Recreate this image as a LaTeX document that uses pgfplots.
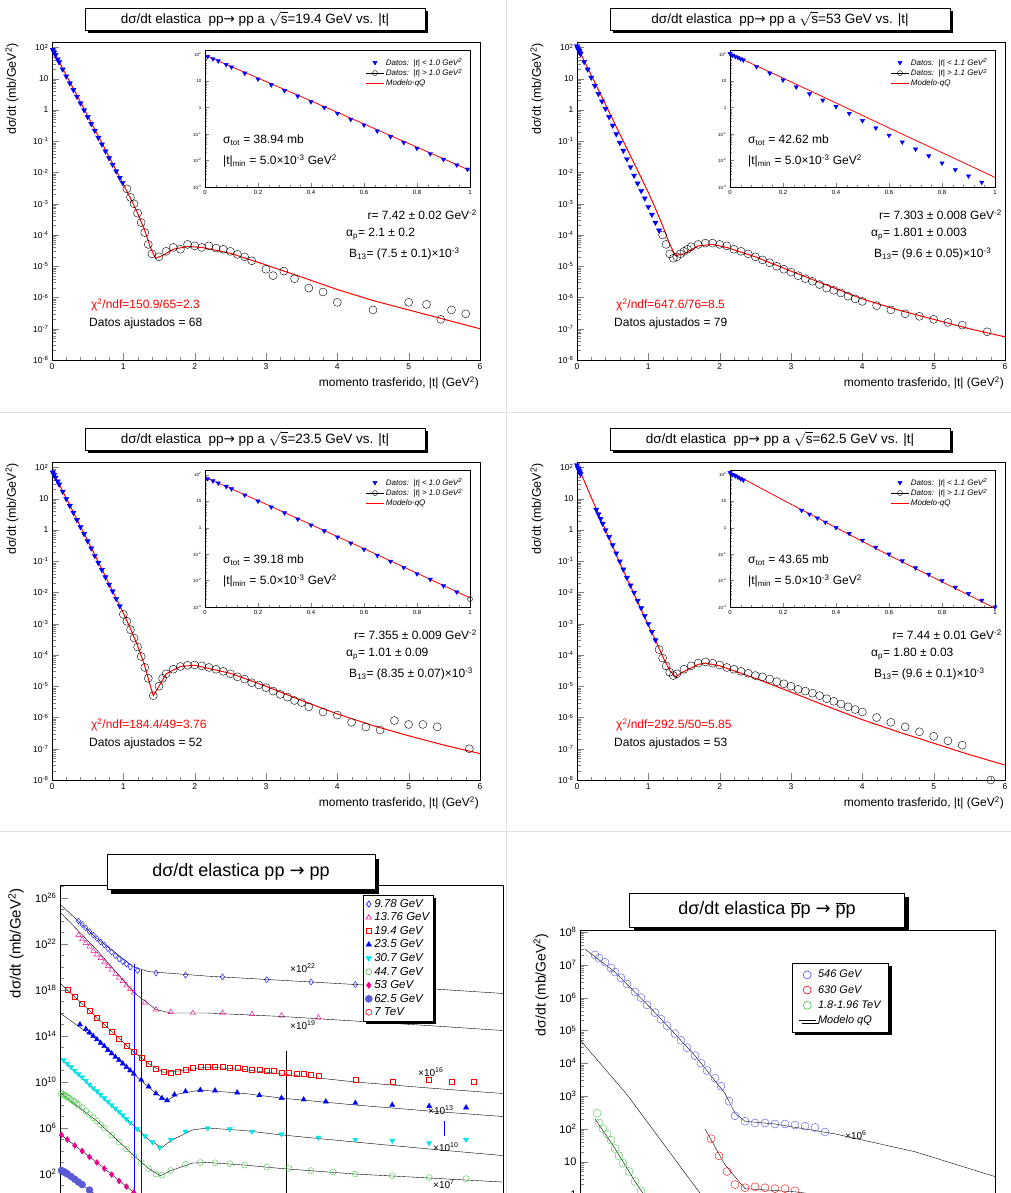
\documentclass[border=0pt]{standalone}
\usepackage{pgfplots}\pgfplotsset{compat=1.18}
\usepackage{pgfplotstable}
\usepackage{fontspec}\setmainfont{Liberation Sans}
\newfontfamily\dejavu{DejaVu Sans}
\usetikzlibrary{shadows}
\newcommand\E[1]{10\textsuperscript{#1}}
\newcommand\ar{{\dejavu →}}
\definecolor{rcyan}{RGB}{0,230,230}
\definecolor{rgreen}{RGB}{70,200,70}
\definecolor{rpurp}{RGB}{90,90,210}
\definecolor{rblue}{RGB}{80,80,230}

% ---------- panel A 19.4 GeV
\pgfplotstableread{
t y
0.01 85
0.03 70
0.05 58
0.08 42
0.1 34
0.15 20
0.2 12
0.25 7.2
0.3 4.4
0.35 2.7
0.4 1.65
0.45 1.0
0.5 0.6
0.55 0.36
0.6 0.22
0.65 0.13
0.7 0.08
0.75 0.048
0.8 0.029
0.85 0.018
0.9 0.011
0.95 0.0068
0.99 0.0047
}\triA
\pgfplotstableread{
t y
1.05 3e-3
1.1 1.6e-3
1.15 1e-3
1.2 5e-4
1.25 2.5e-4
1.3 1.2e-4
1.35 5e-5
1.4 2.5e-5
1.5 2e-5
1.6 3e-5
1.7 4e-5
1.8 3.5e-5
1.9 5e-5
2.0 4.5e-5
2.1 4e-5
2.2 4.5e-5
2.3 3.8e-5
2.4 3.5e-5
2.5 3e-5
2.6 2.4e-5
2.7 2e-5
2.8 1.5e-5
3.0 8e-6
3.1 5e-6
3.25 7e-6
3.4 4e-6
3.6 2e-6
3.8 1.5e-6
4.0 7e-7
4.5 4e-7
5.0 7e-7
5.25 6e-7
5.45 2e-7
5.6 4e-7
5.8 3e-7
}\circA
\pgfplotstableread{
t y
0 95
0.2 13
0.4 1.8
0.6 0.24
0.8 0.032
1.0 0.0042
1.1 1.5e-3
1.2 5e-4
1.3 1.4e-4
1.38 4e-5
1.45 1.8e-5
1.55 2.2e-5
1.7 3.5e-5
1.9 4.3e-5
2.1 4e-5
2.5 2.6e-5
3 1.1e-5
3.5 4.5e-6
4 1.8e-6
4.5 8e-7
5 4e-7
5.5 2e-7
6 1e-7
}\modA
% ---------- panel B 53 GeV
\pgfplotstableread{
t y
0.0 110
0.01 95
0.02 85
0.03 78
0.04 70
0.05 63
0.1 35
0.15 20
0.2 11
0.25 6
0.3 3.3
0.35 1.9
0.4 1.1
0.45 0.6
0.5 0.32
0.55 0.17
0.6 0.09
0.65 0.05
0.7 0.027
0.75 0.015
0.8 0.008
0.85 0.0045
0.9 0.0026
0.95 0.0015
1.0 8e-4
1.05 4.5e-4
1.1 2.5e-4
1.15 1.4e-4
}\triB
\pgfplotstableread{
t y
1.2 1e-4
1.25 5e-5
1.3 2.5e-5
1.35 1.8e-5
1.4 2e-5
1.45 2.5e-5
1.5 3e-5
1.55 3.5e-5
1.6 4.2e-5
1.7 5e-5
1.8 5.5e-5
1.9 5.5e-5
2.0 5e-5
2.1 4.5e-5
2.2 3.5e-5
2.3 3e-5
2.4 2.5e-5
2.5 2e-5
2.6 1.6e-5
2.7 1.3e-5
2.8 1e-5
2.9 8e-6
3.0 6.5e-6
3.1 5e-6
3.2 4e-6
3.3 3.3e-6
3.4 2.6e-6
3.5 2e-6
3.6 1.7e-6
3.7 1.4e-6
3.8 1.1e-6
3.9 9e-7
4.0 7.5e-7
4.2 5.5e-7
4.4 4e-7
4.6 3e-7
4.8 2.5e-7
5.0 2e-7
5.2 1.6e-7
5.4 1.3e-7
5.75 8e-8
}\circB
\pgfplotstableread{
t y
0 110
0.2 13
0.4 1.5
0.6 0.17
0.8 0.02
1.0 2.3e-3
1.1 7e-4
1.2 2e-4
1.3 5e-5
1.38 2.2e-5
1.5 2.5e-5
1.7 4.5e-5
1.9 5e-5
2.1 4e-5
2.5 2e-5
3 7e-6
3.5 2.5e-6
4 9e-7
4.5 4e-7
5 2e-7
5.5 1e-7
6 5.5e-8
}\modB
% ---------- panel C 23.5 GeV
\pgfplotstableread{
t y
0.01 70
0.03 58
0.05 48
0.08 36
0.1 29
0.15 17
0.2 10
0.25 6
0.3 3.6
0.35 2.1
0.4 1.25
0.45 0.75
0.5 0.44
0.55 0.26
0.6 0.15
0.65 0.09
0.7 0.053
0.75 0.031
0.8 0.018
0.85 0.011
0.9 0.0063
0.95 0.0037
}\triC
\pgfplotstableread{
t y
1.0 2e-3
1.05 1.2e-3
1.1 6.5e-4
1.15 3.5e-4
1.2 1.8e-4
1.25 9e-5
1.3 4e-5
1.35 1.8e-5
1.42 5e-6
1.5 1e-5
1.55 1.8e-5
1.6 2.5e-5
1.7 3.5e-5
1.8 4.3e-5
1.9 4.7e-5
2.0 4.8e-5
2.1 4.5e-5
2.2 4e-5
2.3 3.5e-5
2.4 3e-5
2.5 2.5e-5
2.6 2e-5
2.7 1.7e-5
2.8 1.3e-5
2.9 1.1e-5
3.0 9e-6
3.1 7e-6
3.2 5.5e-6
3.3 4.5e-6
3.4 3.5e-6
3.5 3e-6
3.6 2.2e-6
3.8 1.5e-6
4.0 1.2e-6
4.2 7e-7
4.4 5e-7
4.6 4e-7
4.8 8e-7
5.0 6e-7
5.2 6e-7
5.4 5e-7
5.85 1e-7
}\circC
\pgfplotstableread{
t y
0 80
0.2 10.5
0.4 1.3
0.6 0.16
0.8 0.019
1.0 2.2e-3
1.1 7e-4
1.2 2e-4
1.3 4.5e-5
1.38 1e-5
1.42 5e-6
1.5 1e-5
1.6 2.5e-5
1.8 4.3e-5
2.0 4.7e-5
2.5 2.6e-5
3 1e-5
3.5 3.5e-6
4 1.3e-6
4.5 5.5e-7
5 2.6e-7
5.5 1.3e-7
6 7e-8
}\modC
% ---------- panel D 62.5 GeV
\pgfplotstableread{
t y
0.0 120
0.01 100
0.02 90
0.03 80
0.04 70
0.05 62
0.27 4.5
0.3 3.2
0.33 2.3
0.36 1.6
0.4 1.0
0.45 0.6
0.5 0.33
0.55 0.18
0.6 0.1
0.65 0.055
0.7 0.03
0.75 0.017
0.8 0.01
0.85 0.0055
0.9 0.0032
0.95 0.0018
1.0 1e-3
1.05 5.5e-4
1.1 3e-4
}\triD
\pgfplotstableread{
t y
1.15 1.5e-4
1.2 8e-5
1.25 4.5e-5
1.3 2.8e-5
1.35 2.2e-5
1.4 2.5e-5
1.5 3.5e-5
1.6 4.5e-5
1.7 5.5e-5
1.8 6e-5
1.9 5.5e-5
2.0 4.8e-5
2.1 4e-5
2.2 3.5e-5
2.3 3e-5
2.4 2.6e-5
2.5 2.2e-5
2.6 2e-5
2.7 1.7e-5
2.8 1.4e-5
2.9 1.2e-5
3.0 1e-5
3.1 8e-6
3.2 7e-6
3.3 6e-6
3.4 5e-6
3.5 4e-6
3.6 3.3e-6
3.7 2.7e-6
3.8 2.2e-6
3.9 1.8e-6
4.0 1.5e-6
4.2 1e-6
4.4 7e-7
4.6 5e-7
4.8 3.5e-7
5.0 2.5e-7
5.2 1.8e-7
5.4 1.3e-7
5.8 1e-8
}\circD
\pgfplotstableread{
t y
0 130
0.2 11
0.4 1.0
0.6 0.09
0.8 0.009
1.0 9e-4
1.1 3e-4
1.2 9e-5
1.3 3.2e-5
1.38 2e-5
1.5 3e-5
1.7 5e-5
1.8 5.5e-5
2.0 4.5e-5
2.5 1.8e-5
3 6.5e-6
3.5 2.3e-6
4 8.5e-7
4.5 3.5e-7
5 1.5e-7
5.5 6.5e-8
6 3e-8
}\modD

\newcommand\TopPanel[9]{%
\fill[black] ({(#1+88)*1pt},{-(#2+11)*1pt}) rectangle ({(#1+428)*1pt},{-(#2+33)*1pt});
\node[draw,fill=white,line width=0.6pt,minimum width=340pt,minimum height=22pt,inner sep=0pt,font=\fontsize{13.5}{15}\selectfont]
  at ({(#1+255)*1pt},{-(#2+19)*1pt}) {dσ/dt elastica\ \ pp\ar\ pp a \(\sqrt{\mbox{s}}\)=#3 GeV vs. |t|};
\begin{axis}[/pgf/number format/assume math mode=true,
  scale only axis,width=428pt,height=318pt,ymode=log,xmin=0,xmax=6,ymin=1e-8,ymax=150,
  xtick={0,...,6},minor x tick num=4,
  ytick={1e-8,1e-7,1e-6,1e-5,1e-4,1e-3,1e-2,1e-1,1,10,100},
  yticklabels={\E{-8},\E{-7},\E{-6},\E{-5},\E{-4},\E{-3},\E{-2},\E{-1},1,10,\E{2}},
  tick align=inside,xtick pos=bottom,ytick pos=left,
  tick label style={font=\fontsize{8.5}{9}\selectfont},
  major tick length=7pt,minor tick length=3.5pt,
  axis line style={line width=0.6pt},
  at={({(#1+52)*1pt},{-(#2+42)*1pt})},anchor=north west]
\addplot[red,line width=1pt,no marks] table {#6};
\addplot[blue,only marks,mark=triangle*,mark size=3pt,mark options={rotate=180}] table {#4};
\addplot[black,only marks,mark=o,mark size=4pt] table {#5};
\end{axis}
\begin{axis}[/pgf/number format/assume math mode=true,
  scale only axis,width=265pt,height=137pt,ymode=log,xmin=0,xmax=1,ymin=1e-3,ymax=150,
  xtick={0,0.2,0.4,0.6,0.8,1},minor x tick num=4,
  ytick={1e-3,1e-2,1e-1,1,10,100},
  yticklabels={\E{-3},\E{-2},\E{-1},1,10,\E{2}},
  tick align=inside,xtick pos=bottom,ytick pos=left,
  xticklabel style={font=\fontsize{6}{7}\selectfont},
  yticklabel style={font=\fontsize{4.5}{5}\selectfont},
  major tick length=4pt,minor tick length=2pt,
  axis line style={line width=0.5pt},
  legend cell align=left,
  legend style={at={(0.99,0.97)},anchor=north east,draw=none,fill=none,
    font=\fontsize{8}{9}\selectfont\itshape,row sep=-2pt},
  at={({(#1+205)*1pt},{-(#2+50)*1pt})},anchor=north west]
\addplot[blue,only marks,mark=triangle*,mark size=2.5pt,mark options={rotate=180}] table {#4};
\addlegendentry{Datos:\ \ |t| < #9 GeV\textsuperscript{2}}
\addplot[black,mark=o,mark size=2.5pt] table {#5};
\addlegendentry{Datos:\ \ |t| > #9 GeV\textsuperscript{2}}
\addplot[red,line width=0.8pt,no marks] table {#6};
\addlegendentry{Modelo-qQ}
\end{axis}
\begin{scope}[every node/.style={font=\fontsize{12}{14}\selectfont,inner sep=1pt}]
\node[anchor=west] at ({(#1+222)*1pt},{-(#2+140)*1pt}) {σ\textsubscript{tot} = \Sig\ mb};
\node[anchor=west] at ({(#1+222)*1pt},{-(#2+161)*1pt}) {|t|\textsubscript{min} = 5.0×10\textsuperscript{-3} GeV\textsuperscript{2}};
\node[anchor=east] at ({(#1+478)*1pt},{-(#2+215)*1pt}) {r= \Rr\ GeV\textsuperscript{-2}};
\node[anchor=west] at ({(#1+345)*1pt},{-(#2+234)*1pt}) {α\textsubscript{p}= \Al};
\node[anchor=west] at ({(#1+348)*1pt},{-(#2+254)*1pt}) {B\textsubscript{13}= \Bb×10\textsuperscript{-3}};
\node[anchor=west,red] at ({(#1+90)*1pt},{-(#2+305)*1pt}) {χ\textsuperscript{2}/ndf=#7};
\node[anchor=west] at ({(#1+88)*1pt},{-(#2+323)*1pt}) {Datos ajustados = #8};
\node[anchor=east] at ({(#1+480)*1pt},{-(#2+383)*1pt}) {momento trasferido, |t| (GeV\textsuperscript{2})};
\node[rotate=90,anchor=east,font=\fontsize{12.5}{14}\selectfont] at ({(#1+12)*1pt},{-(#2+42)*1pt}) {dσ/dt (mb/GeV\textsuperscript{2})};
\end{scope}
}

\begin{document}
\begin{tikzpicture}
\useasboundingbox (0,0) rectangle (1011pt,-1193pt);
\clip (0,0) rectangle (1011pt,-1193pt);
\fill[white] (0,0) rectangle (1011pt,-1193pt);
\draw[gray!25] (506pt,0) -- (506pt,-1193pt);
\draw[gray!25] (0,-412pt) -- (1011pt,-412pt);
\draw[gray!25] (0,-831pt) -- (1011pt,-831pt);

\def\Sig{38.94}\def\Rr{7.42 ± 0.02}\def\Al{2.1 ± 0.2}\def\Bb{(7.5 ± 0.1)}
\TopPanel{0}{0}{19.4}{\triA}{\circA}{\modA}{150.9/65=2.3}{68}{1.0}
\def\Sig{42.62}\def\Rr{7.303 ± 0.008}\def\Al{1.801 ± 0.003}\def\Bb{(9.6 ± 0.05)}
\TopPanel{525}{0}{53}{\triB}{\circB}{\modB}{647.6/76=8.5}{79}{1.1}
\def\Sig{39.18}\def\Rr{7.355 ± 0.009}\def\Al{1.01 ± 0.09}\def\Bb{(8.35 ± 0.07)}
\TopPanel{0}{420}{23.5}{\triC}{\circC}{\modC}{184.4/49=3.76}{52}{1.0}
\def\Sig{43.65}\def\Rr{7.44 ± 0.01}\def\Al{1.80 ± 0.03}\def\Bb{(9.6 ± 0.1)}
\TopPanel{525}{420}{62.5}{\triD}{\circD}{\modD}{292.5/50=5.85}{53}{1.1}

% ---------- bottom left
\begin{axis}[/pgf/number format/assume math mode=true,
 scale only axis,width=443pt,height=358pt,at={(60pt,-885pt)},anchor=north west,
 ymode=log,xmin=0,xmax=6,ymin=1e-4,ymax=1.35e27,
 ytick={1e2,1e6,1e10,1e14,1e18,1e22,1e26},
 yticklabels={\E{2},\E{6},\E{10},\E{14},\E{18},\E{22},\E{26}},
 minor ytick={1e0,1e1,1e3,1e4,1e5,1e7,1e8,1e9,1e11,1e12,1e13,1e15,1e16,1e17,1e19,1e20,1e21,1e23,1e24,1e25,1e27},
 xtick={0,...,6},minor x tick num=4,
 tick align=inside,xtick pos=bottom,ytick pos=left,
 yticklabel style={font=\fontsize{11}{12}\selectfont},
 major tick length=8pt,minor tick length=4pt,
 legend cell align=left,
 legend style={at={(0.684,0.972)},anchor=north west,font=\fontsize{11.5}{13}\selectfont\itshape,
   row sep=0pt,inner xsep=2pt,inner ysep=2pt,line width=0.6pt,drop shadow={shadow xshift=3pt,shadow yshift=-3pt,fill=black,opacity=1}}]
\addplot[black,no marks,forget plot] coordinates {(0,3e25)(0.5,3e22)(1.0,1e20)(1.2,4e19)(2,1.6e19)(3,7e18)(4,3e18)(5,1.3e18)(6,5e17)};
\addplot[black,no marks,forget plot] coordinates {(0,6e24)(0.5,3e21)(1,6e17)(1.3,2e16)(1.5,1e16)(2,1e16)(3,5e15)(4,2e15)(5,8e14)(6,3e14)};
\addplot[black,no marks,forget plot] coordinates {(0,4e18)(0.5,4e15)(1,4e12)(1.2,4e11)(1.4,7e10)(1.6,9e10)(2,2e11)(2.5,1.2e11)(3,5e10)(4,1e10)(5,3e9)(6,1e9)};
\addplot[black,no marks,forget plot] coordinates {(0,1e16)(0.5,5e13)(1,5e10)(1.3,1e9)(1.45,2.5e8)(1.6,9e8)(1.9,2e9)(2.5,1e9)(3,4e8)(4,1e8)(5,3e7)(6,1e7)};
\addplot[black,no marks,forget plot] coordinates {(0,1.2e12)(0.5,1.5e9)(1,1.6e6)(1.2,1e5)(1.38,2e4)(1.5,8e4)(1.8,7e5)(2,1e6)(2.5,6e5)(3,2.5e5)(4,6e4)(5,1.5e4)(6,4e3)};
\addplot[black,no marks,forget plot] coordinates {(0,1.2e9)(0.5,4e6)(1,4e3)(1.2,300)(1.36,70)(1.5,200)(1.8,900)(2,1000)(2.5,600)(3,300)(4,100)(5,45)(6,20)};
\addplot[black,no marks,forget plot] coordinates {(0,3e5)(0.5,1e3)(1,2.5)(1.3,0.1)};
\addplot[black,no marks,forget plot] coordinates {(0,250)(0.4,4)(0.8,0.05)};
\addplot[blue,no marks,forget plot] coordinates {(1.0,2e20)(1.0,1e-4)};
\addplot[blue,no marks,forget plot] coordinates {(1.1,6e19)(1.1,1e-4)};
\addplot[black,no marks,forget plot] coordinates {(3.07,5e12)(3.07,1e-4)};
\addplot[blue,no marks,forget plot] coordinates {(5.2,4e6)(5.2,2e5)};
\addplot[blue,only marks,mark=diamond,mark size=3pt] coordinates {(0.25,1e24)(0.3,5e23)(0.35,2.5e23)(0.4,1.2e23)(0.45,6e22)(0.5,3e22)(0.55,1.5e22)(0.6,8e21)(0.65,4e21)(0.7,2e21)(0.75,1e21)(0.8,5e20)(0.85,3e20)(0.9,1.8e20)(0.95,1e20)(1.05,5e19)(1.3,3e19)(1.7,2e19)(2.2,1.4e19)(2.8,8e18)(3.4,5e18)(4.0,3e18)(4.7,1.6e18)};
\addlegendentry{9.78 GeV}
\addplot[magenta,only marks,mark=triangle,mark size=3pt] coordinates {(0.25,6e22)(0.3,2.5e22)(0.35,1.2e22)(0.4,6e21)(0.45,2.5e21)(0.5,1.2e21)(0.55,6e20)(0.6,2.5e20)(0.65,1.2e20)(0.7,6e19)(0.75,2.5e19)(0.8,1.2e19)(0.85,6e18)(0.9,2.5e18)(0.95,1.2e18)(1.0,6e17)(1.15,8e16)(1.3,2e16)(1.5,1.2e16)(1.8,1e16)(2.2,1e16)(2.6,8e15)(3.0,6e15)(3.5,4e15)};
\addlegendentry{13.76 GeV}
\addplot[red,only marks,mark=square,mark size=2.5pt] coordinates {(0.1,1e18)(0.2,2.5e17)(0.3,6e16)(0.4,1.5e16)(0.5,4e15)(0.6,1e15)(0.7,2.5e14)(0.8,6e13)(0.9,1.5e13)(1.0,4e12)(1.1,1.3e12)(1.2,4e11)(1.3,1.5e11)(1.4,8e10)(1.5,6e10)(1.6,8e10)(1.7,1.2e11)(1.8,1.6e11)(1.9,2e11)(2.0,2.3e11)(2.1,2.2e11)(2.2,2e11)(2.3,1.8e11)(2.4,1.7e11)(2.5,1.5e11)(2.6,1.3e11)(2.7,1.2e11)(2.8,1e11)(2.9,9e10)(3.0,7e10)(3.1,6e10)(3.2,5.5e10)(3.3,5e10)(3.4,4e10)(3.5,3.5e10)(4.0,1.5e10)(4.5,1e10)(5.0,1.5e10)(5.3,1e10)(5.6,1e10)};
\addlegendentry{19.4 GeV}
\addplot[blue,only marks,mark=triangle*,mark size=3pt] coordinates {(0.27,1e15)(0.35,4e14)(0.4,2e14)(0.45,1e14)(0.5,5e13)(0.55,2.5e13)(0.6,1.3e13)(0.65,6e12)(0.7,3e12)(0.75,1.5e12)(0.8,8e11)(0.85,4e11)(0.9,2e11)(0.95,1e11)(1.0,5e10)(1.1,1.5e10)(1.2,4e9)(1.3,1e9)(1.38,4e8)(1.45,2.5e8)(1.55,8e8)(1.7,1.5e9)(1.9,2e9)(2.1,1.8e9)(2.4,1.2e9)(2.7,7e8)(3.0,4e8)(3.3,3e8)(3.6,2e8)(4.0,1.5e8)(4.5,1e8)(5.0,8e7)(5.5,6e7)};
\addlegendentry{23.5 GeV}
\addplot[rcyan,only marks,mark=triangle*,mark size=3pt,mark options={rotate=180}] coordinates {(0.05,8e11)(0.1,4e11)(0.15,2e11)(0.2,1e11)(0.25,5e10)(0.3,2.6e10)(0.35,1.3e10)(0.4,6e9)(0.45,3e9)(0.5,1.6e9)(0.55,8e8)(0.6,4e8)(0.65,2e8)(0.7,1e8)(0.75,5e7)(0.8,2.6e7)(0.85,1.3e7)(0.9,6e6)(0.95,3e6)(1.05,8e5)(1.15,2e5)(1.25,6e4)(1.35,2e4)(1.5,1e5)(1.7,5e5)(2.0,1e6)(2.3,8e5)(2.6,5e5)(3.0,3e5)(3.5,1.5e5)(4.0,1e5)(4.5,8e4)(5.0,5e4)(5.5,1e5)};
\addlegendentry{30.7 GeV}
\addplot[rgreen,only marks,mark=o,mark size=3pt] coordinates {(0.02,1e9)(0.04,8.5e8)(0.06,7e8)(0.08,6e8)(0.1,5e8)(0.12,4e8)(0.15,3e8)(0.18,2.2e8)(0.2,1.8e8)(0.23,1.3e8)(0.25,1e8)(0.3,6e7)(0.35,3e7)(0.4,1.5e7)(0.45,8e6)(0.5,4e6)(0.55,2e6)(0.6,1e6)(0.7,2.5e5)(0.8,6e4)(0.9,1.5e4)(1.0,4e3)(1.1,1e3)(1.2,300)(1.3,100)(1.38,80)(1.5,200)(1.7,700)(1.9,1000)(2.1,950)(2.3,800)(2.5,600)(2.8,400)(3.1,300)(3.4,200)(3.7,150)(4.0,100)(4.5,70)(5.0,50)(5.5,40)};
\addlegendentry{44.7 GeV}
\addplot[magenta,only marks,mark=diamond*,mark size=3pt] coordinates {(0.02,2.5e5)(0.1,1e5)(0.2,3e4)(0.3,1e4)(0.4,3e3)(0.5,1e3)(0.6,300)(0.7,90)(0.8,25)(0.9,8)(1.0,2.5)};
\addlegendentry{53 GeV}
\addplot[rpurp,only marks,mark=*,mark size=3.5pt] coordinates {(0.02,200)(0.04,170)(0.06,150)(0.08,120)(0.1,100)(0.15,60)(0.2,35)(0.25,20)(0.3,12)(0.4,4)};
\addlegendentry{62.5 GeV}
\addplot[red,only marks,mark=o,mark size=3pt] coordinates {(0.05,0.5)(0.1,0.3)(0.2,0.1)};
\addlegendentry{7 TeV}
\end{axis}
\fill[black] (111pt,-859pt) rectangle (379pt,-894pt);
\node[draw,fill=white,line width=0.8pt,minimum width=268pt,minimum height=35pt,inner sep=0pt,font=\fontsize{18}{20}\selectfont]
  at (241pt,-872pt) {dσ/dt elastica pp \ar\ pp};
\node[rotate=90,anchor=east,font=\fontsize{15}{17}\selectfont] at (16pt,-885pt) {dσ/dt (mb/GeV\textsuperscript{2})};
\begin{scope}[every node/.style={font=\fontsize{10}{11}\selectfont,anchor=west,inner sep=0pt}]
\node at (290pt,-968pt) {×10\textsuperscript{22}};
\node at (290pt,-1025pt) {×10\textsuperscript{19}};
\node at (418pt,-1072pt) {×10\textsuperscript{16}};
\node at (428pt,-1110pt) {×10\textsuperscript{13}};
\node at (433pt,-1147pt) {×10\textsuperscript{10}};
\node at (433pt,-1184pt) {×10\textsuperscript{7}};
\end{scope}

% ---------- bottom right
\begin{axis}[/pgf/number format/assume math mode=true,
 scale only axis,width=415pt,height=330pt,at={(580pt,-930pt)},anchor=north west,
 ymode=log,xmin=0.125,xmax=2.2,ymin=1e-2,ymax=1.15e8,
 ytick={1,10,100,1e3,1e4,1e5,1e6,1e7,1e8},
 yticklabels={1,10,\E{2},\E{3},\E{4},\E{5},\E{6},\E{7},\E{8}},
 xtick={0.5,1,1.5,2},minor x tick num=4,
 tick align=inside,xtick pos=bottom,ytick pos=left,
 yticklabel style={font=\fontsize{11}{12}\selectfont},
 major tick length=8pt,minor tick length=4pt,
 legend cell align=left,
 legend style={at={(0.511,0.90)},anchor=north west,font=\fontsize{11}{12}\selectfont\itshape,
   row sep=2pt,inner xsep=6pt,inner ysep=5pt,line width=0.6pt,drop shadow={shadow xshift=3pt,shadow yshift=-3pt,fill=black,opacity=1}}]
\addplot[black,no marks,forget plot] coordinates {(0.15,3e7)(0.3,6e6)(0.5,3.5e5)(0.7,1.7e4)(0.85,1.2e3)(0.9,300)(0.95,170)(1.1,140)(1.4,70)(1.8,20)(2.2,3.5)};
\addplot[black,no marks,forget plot] coordinates {(0,4e5)(0.36,1.1e3)(0.72,1.2)(0.9,0.05)};
\addplot[black,no marks,forget plot] coordinates {(0.2,200)(0.3,25)(0.4,2.5)(0.5,0.3)};
\addplot[black,no marks,forget plot] coordinates {(0.75,100)(0.85,8)(0.95,1.5)(1.2,1.2)(1.6,0.6)};
\addplot[rblue,only marks,mark=o,mark size=4pt] coordinates {(0.2,2e7)(0.22,1.6e7)(0.25,1.2e7)(0.28,8e6)(0.3,6e6)(0.33,4e6)(0.36,2.6e6)(0.4,1.5e6)(0.43,1e6)(0.46,6e5)(0.5,3.5e5)(0.53,2.2e5)(0.56,1.4e5)(0.6,8e4)(0.63,5e4)(0.66,3e4)(0.7,1.7e4)(0.73,1e4)(0.76,6e3)(0.8,3.5e3)(0.83,2e3)(0.87,700)(0.9,250)(0.95,170)(1.0,150)(1.05,150)(1.1,140)(1.15,140)(1.2,130)(1.25,120)(1.3,110)(1.35,80)};
\addlegendentry{546 GeV}
\addplot[red,only marks,mark=o,mark size=4pt] coordinates {(0.78,50)(0.82,15)(0.86,5)(0.9,2)(0.95,1.6)(1.0,1.7)(1.05,1.6)(1.1,1.5)(1.15,1.5)(1.2,1.3)};
\addlegendentry{630 GeV}
\addplot[rgreen,only marks,mark=o,mark size=4pt] coordinates {(0.21,300)(0.22,150)(0.24,100)(0.26,70)(0.28,45)(0.3,25)(0.32,15)(0.34,9)(0.37,5)(0.4,2.5)(0.43,1.3)};
\addlegendentry{1.8-1.96 TeV}
\addplot[black,no marks] coordinates {(3,1)(3.1,1)};
\addlegendentry{Modelo qQ}
\end{axis}
\fill[black] (634pt,-897pt) rectangle (909pt,-931pt);
\node[draw,fill=white,line width=0.8pt,minimum width=275pt,minimum height=34pt,inner sep=0pt,font=\fontsize{18}{20}\selectfont]
  at (767pt,-910pt) {dσ/dt elastica \(\overline{\mbox{p}}\)p \ar\ \(\overline{\mbox{p}}\)p};
\node[rotate=90,anchor=east,font=\fontsize{14}{16}\selectfont] at (541pt,-930pt) {dσ/dt (mb/GeV\textsuperscript{2})};
\node[anchor=west,font=\fontsize{10}{11}\selectfont,inner sep=0pt] at (845pt,-1135pt) {×10\textsuperscript{6}};
\end{tikzpicture}
\end{document}
